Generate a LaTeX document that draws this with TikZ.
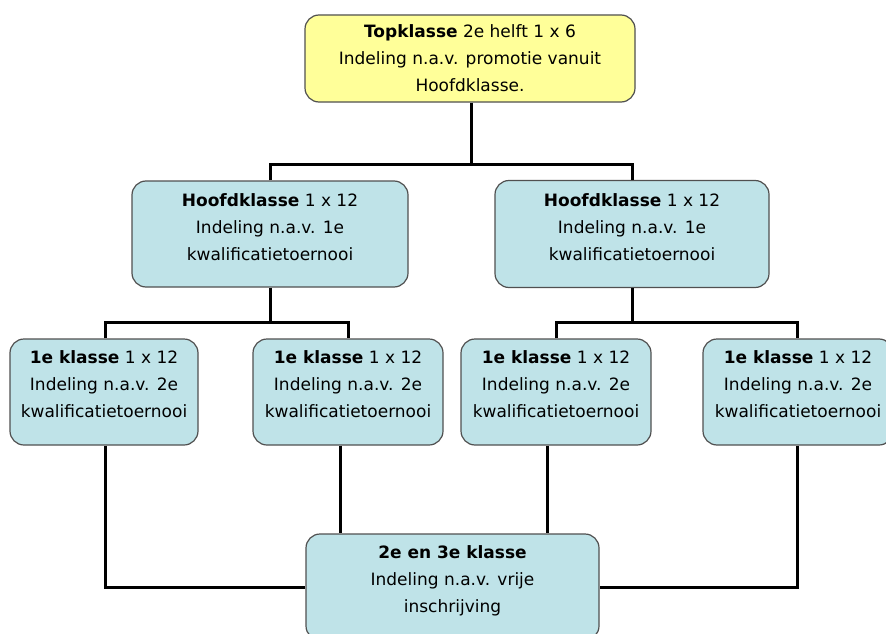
\documentclass[tikz,border=0pt]{standalone}
\usepackage{fontspec}
\setmainfont{DejaVu Sans}
\usepackage{tikz}

\definecolor{boxblue}{RGB}{191,227,232}
\definecolor{boxyellow}{RGB}{255,255,153}
\definecolor{boxedge}{RGB}{80,80,80}

\tikzset{
  klasse/.style={draw=boxedge, line width=1.2pt, fill=boxblue, rounded corners=14pt,
    align=center, inner sep=0pt, font=\fontsize{17}{27}\selectfont, text depth=16pt},
  wire/.style={black, line width=3pt}
}

\begin{document}
\begin{tikzpicture}[x=1pt,y=-1pt]
\useasboundingbox (0,0) rectangle (886,634);
\node [klasse, fill=boxyellow, minimum width=330pt, minimum height=87pt, text depth=-5pt] (top) at (470,58.5)
  {\textbf{Topklasse} 2e helft 1 x 6\\Indeling n.a.v. promotie vanuit\\Hoofdklasse.};
\node [klasse, minimum width=276pt, minimum height=106pt, text depth=14pt] (hL) at (270,234)
  {\textbf{Hoofdklasse} 1 x 12\\Indeling n.a.v. 1e\\kwalificatietoernooi};
\node [klasse, minimum width=274pt, minimum height=107pt, text depth=14pt] (hR) at (632,234)
  {\textbf{Hoofdklasse} 1 x 12\\Indeling n.a.v. 1e\\kwalificatietoernooi};
\node [klasse, minimum width=188pt, minimum height=106pt] (k1) at (104,392)
  {\textbf{1e klasse} 1 x 12\\Indeling n.a.v. 2e\\kwalificatietoernooi};
\node [klasse, minimum width=190pt, minimum height=106pt] (k2) at (348,392)
  {\textbf{1e klasse} 1 x 12\\Indeling n.a.v. 2e\\kwalificatietoernooi};
\node [klasse, minimum width=190pt, minimum height=106pt] (k3) at (556,392)
  {\textbf{1e klasse} 1 x 12\\Indeling n.a.v. 2e\\kwalificatietoernooi};
\node [klasse, minimum width=190pt, minimum height=106pt] (k4) at (798,392)
  {\textbf{1e klasse} 1 x 12\\Indeling n.a.v. 2e\\kwalificatietoernooi};
\node [klasse, minimum width=293pt, minimum height=106pt] (bot) at (452.5,587)
  {\textbf{2e en 3e klasse}\\Indeling n.a.v. vrije\\inschrijving};

\coordinate (j1) at (471,164);
\coordinate (j2) at (270,322);
\coordinate (j3) at (632,322);

\draw [wire] (top.south -| j1) -- (j1);
\draw [wire] (hL.north) |- (j1) -| (hR.north);
\draw [wire] (hL.south) -- (j2);
\draw [wire] ([xshift=1pt]k1.north) |- (j2) -| (k2.north);
\draw [wire] (hR.south) -- (j3);
\draw [wire] (k3.north) |- (j3) -| ([xshift=-1pt]k4.north);
\draw [wire] ([xshift=1pt]k1.south) |- (bot.west);
\draw [wire] ([xshift=-8pt]k2.south) -- ([xshift=-8pt]k2.south |- bot.north);
\draw [wire] ([xshift=-9pt]k3.south) -- ([xshift=-9pt]k3.south |- bot.north);
\draw [wire] ([xshift=-1pt]k4.south) |- (bot.east);
\end{tikzpicture}
\end{document}
